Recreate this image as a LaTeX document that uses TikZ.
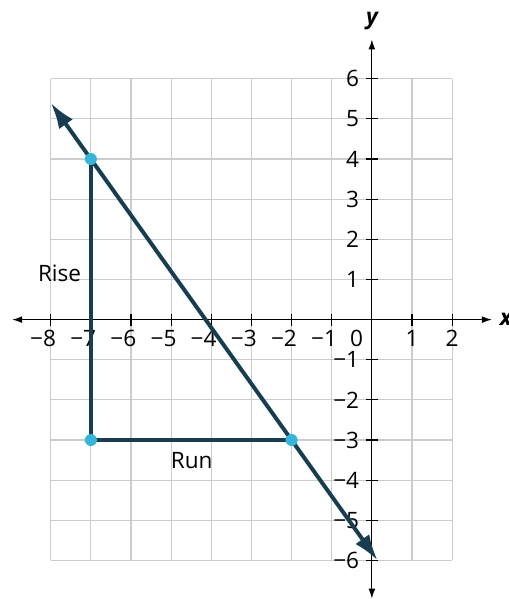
\documentclass[tikz,border=0pt]{standalone}
\usepackage{fontspec}
\setmainfont{Open Sans}
\usetikzlibrary{arrows.meta}
\definecolor{slopeblue}{RGB}{22,62,80}
\definecolor{dotblue}{RGB}{52,182,220}
\tikzset{
  gridline/.style={draw=gray!40, line width=0.8pt},
  axisline/.style={line width=0.8pt, {Latex[length=0.25cm,width=0.17cm]}-{Latex[length=0.25cm,width=0.17cm]}},
  slopeline/.style={slopeblue, line width=2.8pt, {Latex[length=0.65cm,width=0.42cm]}-{Latex[length=0.65cm,width=0.42cm]}},
  legline/.style={slopeblue, line width=2.6pt},
  ptdot/.style={circle, fill=dotblue, inner sep=0pt, minimum size=0.3cm},
  numlabel/.style={inner sep=0pt, font=\fontsize{16}{19}\selectfont},
  textlabel/.style={inner sep=0pt, font=\fontsize{16}{19}\selectfont}
}
\begin{document}
\begin{tikzpicture}
    \useasboundingbox (-9.264,-6.96) rectangle (3.398,7.962);

    % Grid
    \draw[gridline] (-8,-6) grid (2,6);

    % Axes
    \draw[axisline] (-8.96,0) -- (2.99,0);
    \draw[axisline] (0,-6.95) -- (0,6.98);
    \node[anchor=west, inner sep=0pt, font=\fontsize{16}{19}\selectfont\bfseries\itshape] (xlab) at (3.18,0) {x};
    \node[inner sep=0pt, font=\fontsize{16}{19}\selectfont\bfseries\itshape] (ylab) at (0,7.43) {y};

    % Ticks
    \foreach \x in {-8,...,-1,1,2}
        \draw[line width=0.8pt] (\x,-0.15) -- (\x,0.15);
    \foreach \y in {-6,...,-1,1,2,...,6}
        \draw[line width=0.8pt] (-0.15,\y) -- (0.15,\y);

    % Tick labels
    \foreach \n in {1,...,8}
        \node[numlabel, anchor=north] (xm\n) at (-\n-0.03,-0.26) {\llap{−}\n};
    \foreach \n in {1,2}
        \node[numlabel, anchor=north] (xp\n) at (\n,-0.26) {\n};
    \foreach \n in {1,...,6}
        \node[numlabel, anchor=east] (yp\n) at (-0.31,\n) {\n};
    \foreach \n in {1,...,6}
        \node[numlabel, anchor=east] (ym\n) at (-0.31,-\n) {−\n};
    \node[numlabel, anchor=north] (origin) at (-0.38,-0.26) {0};

    % Rise and run
    \coordinate (top) at (-7,4);
    \coordinate (corner) at (-7,-3);
    \coordinate (right) at (-2,-3);
    \draw[legline] (top) -- (corner) -- (right);
    \node[textlabel] (rise) at (-7.78,1.16) {Rise};
    \node[textlabel] (run) at (-4.49,-3.5) {Run};

    % Line through the two points
    \coordinate (lineA) at (-8,5.4);
    \coordinate (lineB) at (0.143,-6);
    \draw[slopeline] (lineA) -- (lineB);

    % Points
    \node[ptdot] (ptA) at (top) {};
    \node[ptdot] (ptB) at (right) {};
    \node[ptdot] (ptC) at (corner) {};
\end{tikzpicture}
\end{document}
